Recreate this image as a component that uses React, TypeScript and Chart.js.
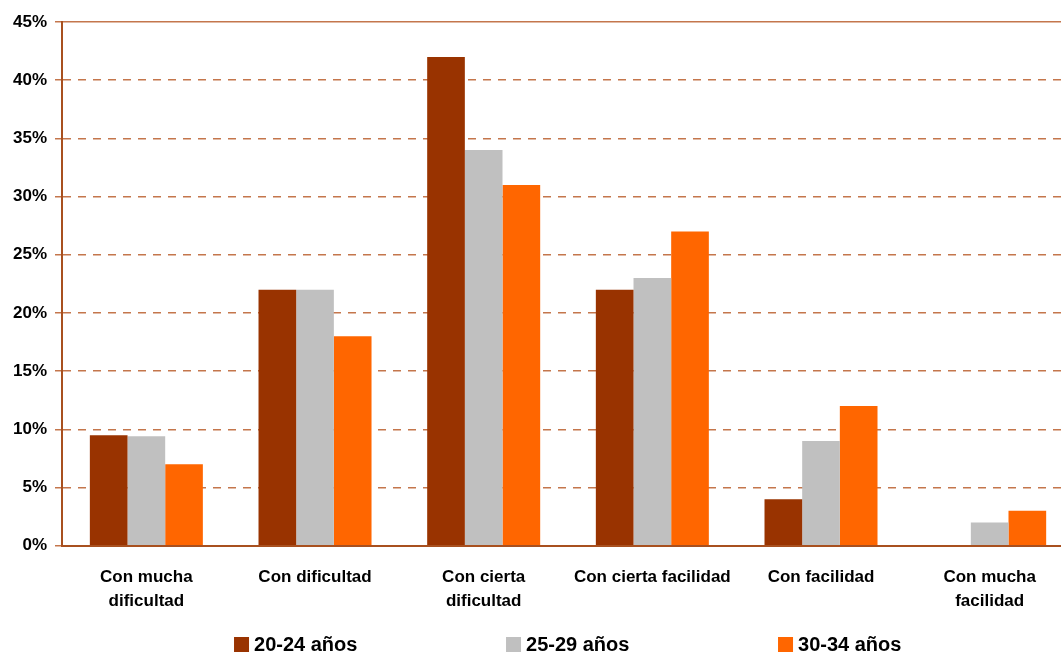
import React, { useEffect, useRef } from "react";
import { Chart, registerables } from "chart.js";

Chart.register(...registerables);

const categories: string[][] = [
  ["Con mucha", "dificultad"],
  ["Con dificultad"],
  ["Con cierta", "dificultad"],
  ["Con cierta facilidad"],
  ["Con facilidad"],
  ["Con mucha", "facilidad"],
];

const seriesLabels = ["20-24 años", "25-29 años", "30-34 años"];
const age2024 = [9.5, 22, 42, 22, 4, 0];
const age2529 = [9.4, 22, 34, 23, 9, 2];
const age3034 = [7, 18, 31, 27, 12, 3];
const seriesColors = ["#993300", "#C0C0C0", "#FF6600"];

const yTicks = [0, 5, 10, 15, 20, 25, 30, 35, 40, 45];

const FONT = "'Liberation Sans', Arial, Helvetica, sans-serif";
const GRID = "#C4764C";
const AXIS = "#A8501F";

// Legend drawn below the x labels with wide, even spacing between entries
const spacedLegend = {
  id: "spacedLegend",
  afterDraw(chart: Chart) {
    const { ctx, chartArea } = chart;
    const step = 272;
    const startX = chartArea.left + 172;
    const y = 644;
    ctx.save();
    ctx.font = `bold 20px ${FONT}`;
    ctx.textBaseline = "middle";
    ctx.textAlign = "left";
    chart.data.datasets.forEach((ds, i) => {
      const x = startX + i * step;
      ctx.fillStyle = ds.backgroundColor as string;
      ctx.fillRect(x, y - 7, 15, 15);
      ctx.fillStyle = "#000000";
      ctx.fillText(ds.label as string, x + 20, y + 1);
    });
    ctx.restore();
  },
};

export default function App() {
  const canvasRef = useRef<HTMLCanvasElement | null>(null);

  useEffect(() => {
    document.body.style.margin = "0";
    const canvas = canvasRef.current;
    if (!canvas) return;
    const values = [age2024, age2529, age3034];
    const chart = new Chart(canvas, {
      type: "bar",
      data: {
        labels: categories,
        datasets: seriesLabels.map((label, i) => ({
          label,
          data: values[i],
          backgroundColor: seriesColors[i],
          borderWidth: 0,
          barPercentage: 1,
          categoryPercentage: 0.67,
        })),
      },
      options: {
        animation: false,
        responsive: false,
        maintainAspectRatio: false,
        layout: { padding: { top: 22, left: 5, right: 0, bottom: 22 } },
        plugins: {
          legend: { display: false },
          tooltip: { enabled: false },
        },
        scales: {
          x: {
            grid: { display: false, drawTicks: false },
            border: { display: true, color: AXIS, width: 2 },
            ticks: {
              color: "#000000",
              padding: 19,
              maxRotation: 0,
              autoSkip: false,
              font: { family: FONT, size: 17, weight: "bold", lineHeight: 1.45 },
            },
          },
          y: {
            min: 0,
            max: 45,
            afterBuildTicks: (scale: any) => {
              scale.ticks = yTicks.map((v) => ({ value: v }));
            },
            grid: {
              color: GRID,
              lineWidth: 1.5,
              tickLength: 7,
              tickColor: GRID,
              tickBorderDash: [],
            },
            border: {
              display: true,
              color: AXIS,
              width: 2,
              dash: (c: any) => (c.tick && c.tick.value === 45 ? [] : [8, 7]),
            },
            ticks: {
              color: "#000000",
              padding: 8,
              font: { family: FONT, size: 17, weight: "bold" },
              callback: (v: any) => `${v}%`,
            },
          },
        },
      },
      plugins: [spacedLegend],
    });
    return () => chart.destroy();
  }, []);

  // The plot runs a little past the right edge of the visible frame
  return (
    <div style={{ width: 1061, height: 655, overflow: "hidden" }}>
      <canvas ref={canvasRef} width={1074} height={655} style={{ display: "block" }} />
    </div>
  );
}
